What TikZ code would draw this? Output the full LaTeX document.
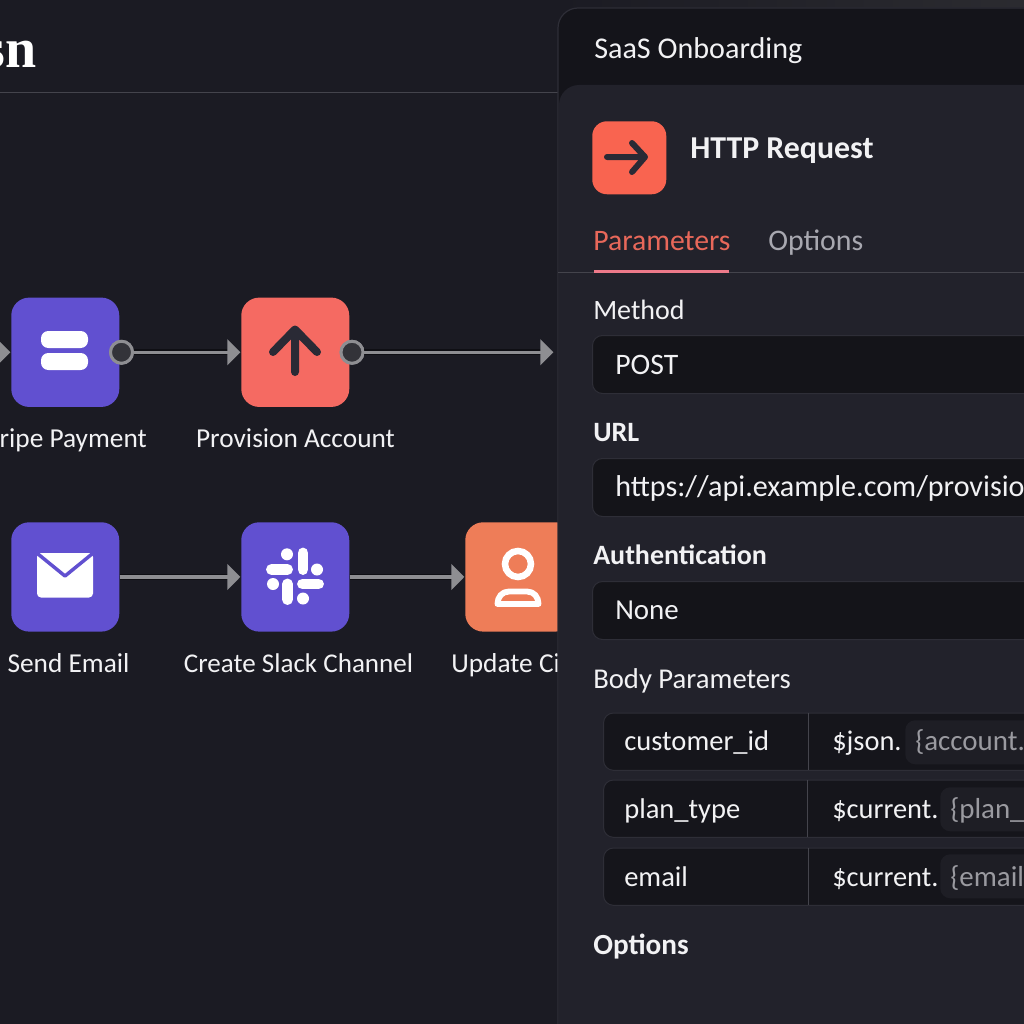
\documentclass[tikz,border=0pt]{standalone}
\usepackage{fontspec}
\setmainfont{Carlito}
\newfontfamily\headfont{Liberation Serif}
\usetikzlibrary{arrows.meta}
\definecolor{bgc}{HTML}{1B1B23}
\definecolor{headc}{HTML}{14141A}
\definecolor{bodyc}{HTML}{22222B}
\definecolor{fieldc}{HTML}{141419}
\definecolor{rowc}{HTML}{15151B}
\definecolor{edgec}{HTML}{2E2E37}
\definecolor{rulec}{HTML}{44444C}
\definecolor{chipc}{HTML}{1E1E25}
\definecolor{purp}{HTML}{6150D0}
\definecolor{redc}{HTML}{F56A62}
\definecolor{tomato}{HTML}{F96450}
\definecolor{orangec}{HTML}{EE7D58}
\definecolor{inkc}{HTML}{2A2A35}
\definecolor{portc}{HTML}{333339}
\definecolor{wirec}{HTML}{8E8E92}
\definecolor{wiredark}{HTML}{0F0F14}
\definecolor{tabc}{HTML}{E8685A}
\definecolor{tabline}{HTML}{EE7A8A}
\definecolor{mutec}{HTML}{A8A8B0}
\definecolor{chiptext}{HTML}{9A9AA0}
\definecolor{labelc}{HTML}{F2F2F4}
\definecolor{stripc}{HTML}{2B2B30}
\tikzset{
  x=0.75pt,y=-0.75pt,
  app/.style={rectangle,rounded corners=13.5pt,minimum width=81pt,minimum height=82pt,inner sep=0pt,anchor=north west,fill=#1},
  port/.style={circle,fill=portc,draw=wirec,line width=2.2pt,minimum size=16.5pt,inner sep=0pt},
  conn/.style={draw=wirec,line width=2.6pt,-{Triangle[length=9.75pt,width=19pt,fill=wirec]},shorten >=0.5pt,
    preaction={draw=wiredark,line width=4.4pt,-,shorten >=8pt}},
  stroke/.style={draw=inkc,line width=6pt,line cap=round,line join=round},
  fs/.style={font=\fontsize{#1pt}{24pt}\selectfont},
  lbl/.style={text=labelc,fs=20.5,inner sep=0pt,anchor=base},
  txt/.style={text=labelc,fs=21,inner sep=0pt,anchor=base west},
  strong/.style={txt,font=\fontsize{21pt}{24pt}\selectfont\bfseries},
  field/.style={rectangle,rounded corners=7.5pt,fill=fieldc,draw=edgec,line width=0.75pt,anchor=north west,minimum width=400pt,minimum height=43.5pt,inner sep=0pt},
  rowbox/.style={rectangle,rounded corners=7.5pt,fill=rowc,draw=edgec,line width=0.75pt,anchor=north west,minimum width=400pt,minimum height=43pt,inner sep=0pt},
  chip/.style={rectangle,rounded corners=7.5pt,fill=chipc,anchor=north west,minimum width=150pt,minimum height=33pt,inner sep=0pt},
  chiptxt/.style={txt,text=chiptext,fs=21.7},
  wpill/.style={fill=white,rounded corners=#1},
}
\begin{document}
\begin{tikzpicture}
\useasboundingbox (0,0) rectangle (1024,1024);
\clip (0,0) rectangle (1024,1024);
\fill[bgc] (0,0) rectangle (1024,1024);
\draw[rulec,line width=0.75pt] (0,93) -- (560,93);
\node[text=white,inner sep=0pt,anchor=base east,font=\headfont\fontsize{42pt}{42pt}\selectfont\bfseries] (title) at (37,68) {sn};

% canvas row 1
\node[app=purp] (pay) at (11,297.33) {};
\node[app=redc] (prov) at (241,297.33) {};
\node[port] (payport) at (pay.east -| 121.5,0) {};
\node[port] (provport) at (prov.east -| 352,0) {};
\coordinate (infrom) at (pay.west -| -30,0);
\coordinate (outto) at (prov.east -| 554,0);
\draw[conn] (infrom) -- (pay.west);
\draw[conn] (payport) -- (prov.west);
\draw[conn] (provport) -- (outto);
\node[port] at (payport) {};
\node[port] at (provport) {};
\fill[wpill=5.5pt] (41,331) rectangle (88,348);
\fill[wpill=5.5pt] (41,353) rectangle (88,370);
\draw[stroke] (273,352) -- (295,329.5) -- (317,352) (295,329.5) -- (295,372);
\node[lbl,anchor=base east] (paylabel) at (147,447.5) {ripe Payment};
\node[lbl] (provlabel) at (295.5,447.5) {Provision Account};

% canvas row 2
\node[app=purp] (mail) at (11,522) {};
\node[app=purp] (slack) at (241,522) {};
\node[app=orangec] (crm) at (465,522) {};
\draw[conn] (mail) -- (slack);
\draw[conn] (slack) -- (crm);
\fill[wpill=3pt] (37,553) rectangle (93,597.5);
\draw[purp,line width=2.6pt,line cap=round,line join=round] (38,554) -- (65,576) -- (92,554);
% slack mark
\begin{scope}[white,line cap=round,line width=8.2pt]
\draw (303,553) -- (303,569.5);
\draw (271.5,569.5) -- (287.5,569.5);
\draw (302.5,584) -- (318.5,584);
\draw (287.5,584) -- (287.5,599.5);
\end{scope}
\fill[white] (287,554.3) circle [radius=6] (317,569.5) circle [radius=6] (273,584) circle [radius=6] (303,598.5) circle [radius=6];
% person
\draw[white,line width=4.9pt] (518,564) circle [radius=13];
\draw[white,line width=4.4pt,line join=round] (497.5,604) -- (538.5,604) .. controls (538.5,597) and (534,591.5) .. (527,591.5) -- (509,591.5) .. controls (502,591.5) and (497.5,597) .. (497.5,604) -- cycle;
\node[lbl] (maillabel) at (68.5,672) {Send Email};
\node[lbl,fs=20.3] (slacklabel) at (298.5,672) {Create Slack Channel};
\node[lbl,anchor=base west] (crmlabel) at (451,672) {Update Ci};

% side panel
\shade[left color=bgc,right color=stripc] (558,0) rectangle (1024,7);
\fill[headc,rounded corners=15pt] (558,8) rectangle (1100,1100);
\draw[edgec,line width=0.9pt,rounded corners=15pt] (558,1100) -- (558,8) -- (1100,8);
\fill[bodyc,rounded corners=15pt] (559,85) rectangle (1100,1100);
\node[txt,fs=22.6] (flow) at (594,58.7) {SaaS Onboarding};
\node[app=tomato,minimum width=55.5pt,minimum height=54.75pt,rounded corners=11pt] (httpicon) at (592,121) {};
\draw[stroke,line width=4.5pt] (607,157) -- (645,157) (632,143) -- (645,157) -- (632,172);
\node[txt,font=\fontsize{23.9pt}{24pt}\selectfont\bfseries] (http) at (690,158) {HTTP Request};
\node[txt,text=tabc,fs=22.3] (tabparams) at (593,250) {Parameters};
\node[txt,text=mutec,fs=22.4] (tabopts) at (768,250) {Options};
\draw[rulec,line width=0.75pt] (558,272.5) -- (1024,272.5);
\fill[tabline] (594,269.5) rectangle (729,272.5);

\node[txt] (methodl) at (593,319) {Method};
\node[field] (method) at (592,335) {};
\node[txt,fs=22.3] (methodv) at (615,374.6) {POST};
\node[strong] (urll) at (593,441) {URL};
\node[field] (url) at (592,458) {};
\node[txt,fs=22.6] (urlv) at (615,496.6) {https://api.example.com/provisio};
\node[strong] (authl) at (593,564) {Authentication};
\node[field] (auth) at (592,581) {};
\node[txt,fs=21.7] (authv) at (615,619.6) {None};
\node[txt,fs=21.5] (bodyl) at (593,688) {Body Parameters};

\node[rowbox] (r1) at (603,712.5) {};
\node[rowbox] (r2) at (603,779.5) {};
\node[rowbox] (r3) at (603,847.5) {};
\draw[rulec,line width=0.75pt] (808,712.5) -- (808,770) (807,780) -- (807,837) (808,848) -- (808,905);
\node[chip] (c1) at (905,720) {};
\node[chip] (c2) at (940,787) {};
\node[chip] (c3) at (940,854) {};
\node[txt,fs=21.4] (k1) at (624,750.6) {customer\_id};
\node[txt,fs=21.4] (k2) at (624,818.6) {plan\_type};
\node[txt,fs=21.4] (k3) at (624,886) {email};
\node[txt,fs=21.3] (v1) at (832,750.6) {\$json.};
\node[txt,fs=21.3] (v2) at (832,818.6) {\$current.};
\node[txt,fs=21.3] (v3) at (832,886) {\$current.};
\node[chiptxt] (t1) at (915,750.6) {\{account.};
\node[chiptxt] (t2) at (950,818.6) {\{plan\_};
\node[chiptxt] (t3) at (950,886) {\{email};
\node[strong,font=\fontsize{21.9pt}{24pt}\selectfont\bfseries] (optl) at (593,954) {Options};
\end{tikzpicture}
\end{document}
